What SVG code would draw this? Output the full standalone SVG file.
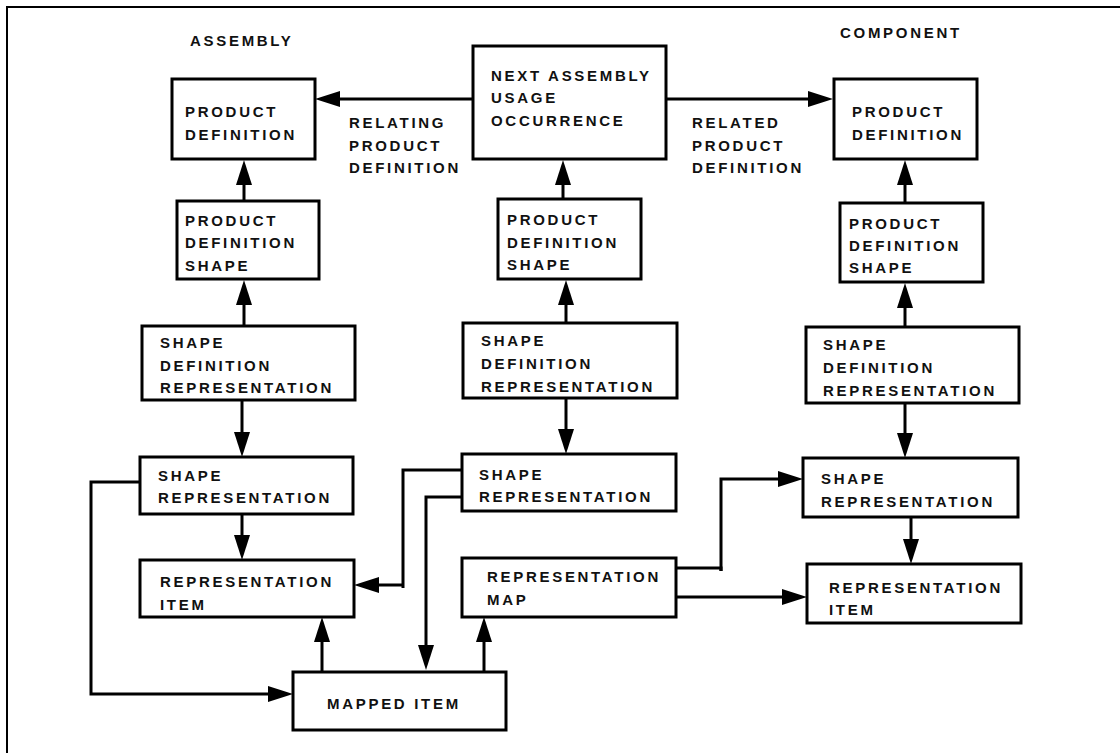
<svg xmlns="http://www.w3.org/2000/svg" width="1120" height="753" viewBox="0 0 1120 753">
<style>
.box{fill:#fff;stroke:#000;stroke-width:3}
.t{font-family:"Liberation Sans",Arial,sans-serif;font-weight:bold;font-size:15px;letter-spacing:2.7px;fill:#111}
.c{fill:none;stroke:#000;stroke-width:3}
.a{fill:none;stroke:#000;stroke-width:3;marker-end:url(#ah)}
.frame{fill:none;stroke:#000;stroke-width:2}
</style>
<defs>
<marker id="ah" markerUnits="userSpaceOnUse" markerWidth="26" markerHeight="17" refX="15" refY="8" orient="auto">
<path d="M0,0 L25,8 L0,16 z" fill="#000"/>
</marker>
</defs>
<rect width="1120" height="753" fill="#fff"/>
<path class="frame" d="M7,753 V7 H1120"/>
<text class="t" x="190" y="46">ASSEMBLY</text>
<text class="t" x="840" y="38">COMPONENT</text>
<g id="connectors">
<path class="a" d="M473,99 H325"/>
<path class="a" d="M666,99 H823"/>
<path class="a" d="M244,201 V170"/>
<path class="a" d="M244,326 V290"/>
<path class="a" d="M242,400 V447"/>
<path class="a" d="M242,514 V550"/>
<path class="a" d="M563,199 V170"/>
<path class="a" d="M566,330 V290"/>
<path class="a" d="M566,398 V444"/>
<path class="a" d="M905,203 V170"/>
<path class="a" d="M905,327 V293"/>
<path class="a" d="M905,403 V448"/>
<path class="a" d="M911,517 V554"/>
<path class="c" d="M462,470 H403 V588"/>
<path class="a" d="M404,585 H364"/>
<path class="a" d="M462,497 H426 V660"/>
<path class="a" d="M322,672 V627"/>
<path class="a" d="M484,674 V627"/>
<path class="c" d="M676,568 H721 V571"/>
<path class="a" d="M721,571 V479 H793"/>
<path class="a" d="M676,597 H797"/>
<path class="a" d="M140,482 H91 V694 H283"/>
</g>
<g id="nauo"><rect class="box" x="473" y="46" width="193" height="113"/>
<text class="t" x="491" y="81">NEXT ASSEMBLY</text><text class="t" x="491" y="103">USAGE</text><text class="t" x="491" y="126">OCCURRENCE</text></g>
<g id="rel-left"><text class="t" x="349" y="128">RELATING</text><text class="t" x="349" y="151">PRODUCT</text><text class="t" x="349" y="173">DEFINITION</text></g>
<g id="rel-right"><text class="t" x="692" y="128">RELATED</text><text class="t" x="692" y="151">PRODUCT</text><text class="t" x="692" y="173">DEFINITION</text></g>
<g id="pd-a"><rect class="box" x="172" y="79" width="143" height="80"/>
<text class="t" x="185" y="117">PRODUCT</text><text class="t" x="185" y="140">DEFINITION</text></g>
<g id="pds-a"><rect class="box" x="177" y="201" width="142" height="78"/>
<text class="t" x="185" y="226">PRODUCT</text><text class="t" x="185" y="248">DEFINITION</text><text class="t" x="185" y="271">SHAPE</text></g>
<g id="sdr-a"><rect class="box" x="142" y="326" width="213" height="74"/>
<text class="t" x="160" y="348">SHAPE</text><text class="t" x="160" y="371">DEFINITION</text><text class="t" x="160" y="393">REPRESENTATION</text></g>
<g id="sr-a"><rect class="box" x="140" y="457" width="213" height="57"/>
<text class="t" x="158" y="481">SHAPE</text><text class="t" x="158" y="503">REPRESENTATION</text></g>
<g id="ri-a"><rect class="box" x="140" y="560" width="214" height="57"/>
<text class="t" x="160" y="587">REPRESENTATION</text><text class="t" x="160" y="610">ITEM</text></g>
<g id="pds-m"><rect class="box" x="498" y="199" width="143" height="80"/>
<text class="t" x="507" y="225">PRODUCT</text><text class="t" x="507" y="248">DEFINITION</text><text class="t" x="507" y="270">SHAPE</text></g>
<g id="sdr-m"><rect class="box" x="463" y="323" width="214" height="75"/>
<text class="t" x="481" y="346">SHAPE</text><text class="t" x="481" y="369">DEFINITION</text><text class="t" x="481" y="392">REPRESENTATION</text></g>
<g id="sr-m"><rect class="box" x="462" y="454" width="214" height="57"/>
<text class="t" x="479" y="480">SHAPE</text><text class="t" x="479" y="502">REPRESENTATION</text></g>
<g id="rm"><rect class="box" x="462" y="558" width="214" height="59"/>
<text class="t" x="487" y="582">REPRESENTATION</text><text class="t" x="487" y="605">MAP</text></g>
<g id="mi"><rect class="box" x="293" y="672" width="213" height="58"/>
<text class="t" x="327" y="709">MAPPED ITEM</text></g>
<g id="pd-c"><rect class="box" x="834" y="79" width="143" height="80"/>
<text class="t" x="852" y="117">PRODUCT</text><text class="t" x="852" y="140">DEFINITION</text></g>
<g id="pds-c"><rect class="box" x="840" y="203" width="143" height="79"/>
<text class="t" x="849" y="229">PRODUCT</text><text class="t" x="849" y="251">DEFINITION</text><text class="t" x="849" y="273">SHAPE</text></g>
<g id="sdr-c"><rect class="box" x="806" y="327" width="213" height="76"/>
<text class="t" x="823" y="350">SHAPE</text><text class="t" x="823" y="373">DEFINITION</text><text class="t" x="823" y="396">REPRESENTATION</text></g>
<g id="sr-c"><rect class="box" x="803" y="458" width="215" height="59"/>
<text class="t" x="821" y="484">SHAPE</text><text class="t" x="821" y="507">REPRESENTATION</text></g>
<g id="ri-c"><rect class="box" x="807" y="564" width="214" height="59"/>
<text class="t" x="829" y="593">REPRESENTATION</text><text class="t" x="829" y="615">ITEM</text></g>
</svg>
